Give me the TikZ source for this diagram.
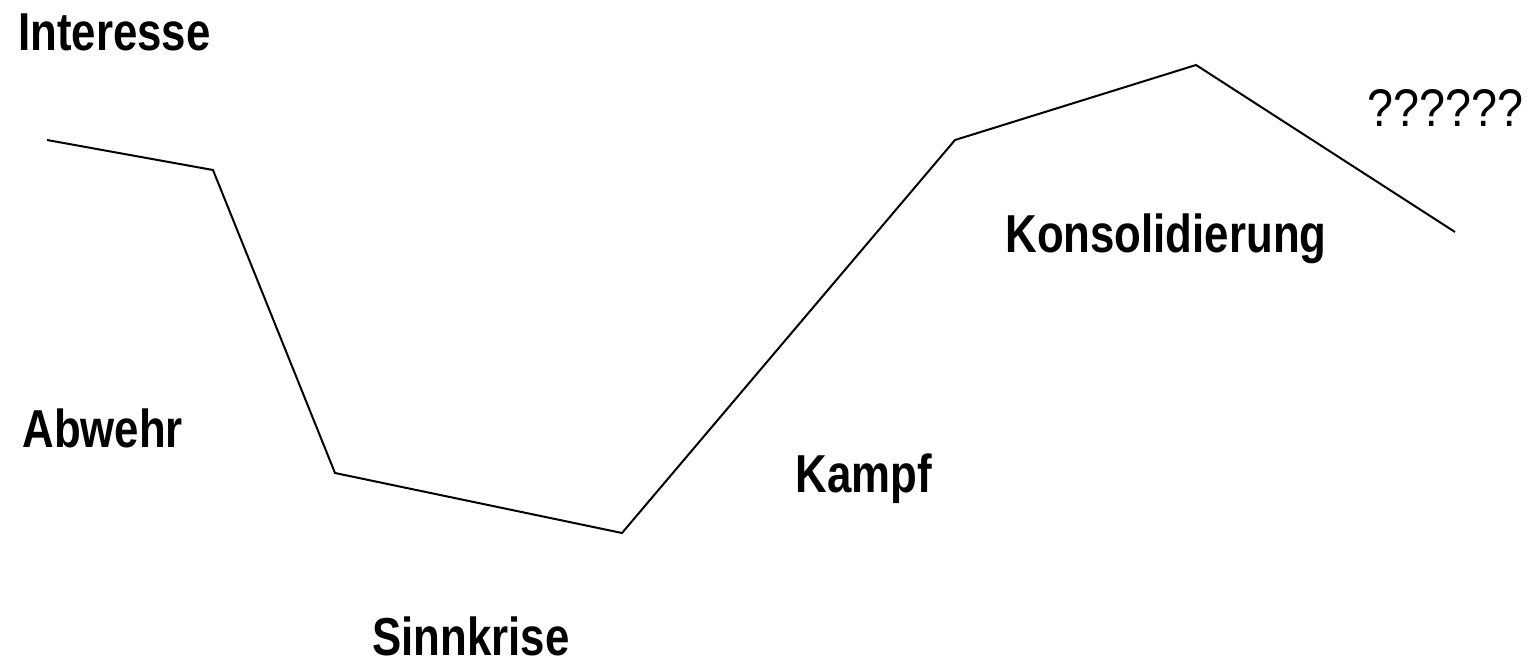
\documentclass[tikz,border=0pt]{standalone}
\usepackage{fontspec}
\newfontfamily\labfont{Liberation Sans}[FakeStretch=0.82]
\newfontfamily\qfont{Liberation Sans}[FakeStretch=0.88]
\begin{document}
\begin{tikzpicture}[x=0.5pt,y=-0.5pt,
  lab/.style={anchor=base west,inner sep=0pt,font=\labfont\bfseries\fontsize{26.7}{30}\selectfont},
  qlab/.style={anchor=base west,inner sep=0pt,font=\qfont\fontsize{26.5}{30}\selectfont},
  curve/.style={line width=1pt,line join=miter}]
\useasboundingbox (0,0) rectangle (1535,664);
\coordinate (p1) at (47,140);
\coordinate (p2) at (213,170);
\coordinate (p3) at (335,473);
\coordinate (p4) at (622,533);
\coordinate (p5) at (955,140);
\coordinate (p6) at (1196,65);
\coordinate (p7) at (1455,232);
\draw[curve] (p1) -- (p2) -- (p3) -- (p4) -- (p5) -- (p6) -- (p7);
\node[lab] (interesse) at (18,50) {Interesse};
\node[lab] (abwehr) at (22,447) {Abwehr};
\node[lab] (sinnkrise) at (372,655) {Sinnkrise};
\node[lab] (kampf) at (795,492) {Kampf};
\node[lab] (konsol) at (1005,252) {Konsolidierung};
\node[qlab] (fragen) at (1367,126) {??????};
\end{tikzpicture}
\end{document}
